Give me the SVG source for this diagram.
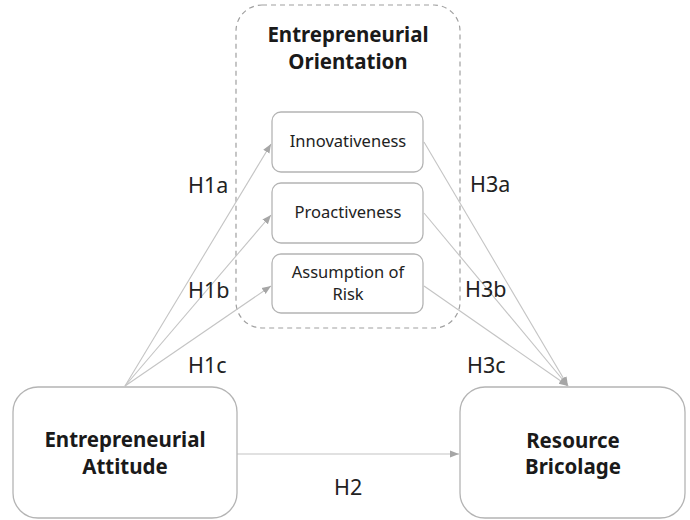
<svg xmlns="http://www.w3.org/2000/svg" width="690" height="520" viewBox="0 0 690 520">
<defs>
<marker id="ah" viewBox="0 0 10 10" refX="10" refY="5" markerWidth="9" markerHeight="9" markerUnits="userSpaceOnUse" orient="auto">
<path d="M0,1 L10,5 L0,9 Z" fill="#a6a6a6"/>
</marker>
<style>
.box{fill:#fff;stroke:#b4b4b4;stroke-width:1.3}
.grp{fill:none;stroke:#a0a0a0;stroke-width:1.2;stroke-dasharray:5,4}
.con{fill:none;stroke:#c4c4c4;stroke-width:1.1;marker-end:url(#ah)}
.big{font-family:"Noto Sans","Open Sans",sans-serif;font-weight:bold;font-size:20.5px;fill:#1a1a1a;text-anchor:middle}
.sm{font-family:"Noto Sans","Open Sans",sans-serif;font-size:16.5px;fill:#222;text-anchor:middle}
.lbl{font-family:"Noto Sans","Open Sans",sans-serif;font-size:21.5px;fill:#222}
</style>
</defs>
<rect width="690" height="520" fill="#fff"/>
<g id="eo-group">
<rect class="grp" x="236" y="5" width="224" height="323" rx="26"/>
<text class="big" x="348" y="41.5">Entrepreneurial</text>
<text class="big" x="348" y="69">Orientation</text>
</g>
<g id="connectors">
<line class="con" x1="125" y1="386" x2="271" y2="144"/>
<line class="con" x1="125" y1="386" x2="271" y2="215"/>
<line class="con" x1="125" y1="386" x2="271" y2="286"/>
<line class="con" x1="424" y1="142" x2="568" y2="386"/>
<line class="con" x1="424" y1="213" x2="568" y2="386"/>
<line class="con" x1="424" y1="286" x2="568" y2="386"/>
<line class="con" x1="237" y1="454" x2="459" y2="454"/>
</g>
<g id="innovativeness">
<rect class="box" x="272" y="112" width="151" height="60" rx="9"/>
<text class="sm" x="348" y="147">Innovativeness</text>
</g>
<g id="proactiveness">
<rect class="box" x="272" y="183" width="151" height="60" rx="9"/>
<text class="sm" x="348" y="218">Proactiveness</text>
</g>
<g id="risk">
<rect class="box" x="272" y="254" width="151" height="59" rx="9"/>
<text class="sm" x="348" y="278">Assumption of</text>
<text class="sm" x="348" y="300">Risk</text>
</g>
<g id="attitude">
<rect class="box" x="13" y="387" width="224" height="131" rx="25"/>
<text class="big" x="125" y="447">Entrepreneurial</text>
<text class="big" x="125" y="474">Attitude</text>
</g>
<g id="bricolage">
<rect class="box" x="460" y="387" width="225" height="131" rx="25"/>
<text class="big" x="573" y="448">Resource</text>
<text class="big" x="573" y="474">Bricolage</text>
</g>
<g id="labels">
<text class="lbl" x="188" y="193">H1a</text>
<text class="lbl" x="188" y="298">H1b</text>
<text class="lbl" x="188" y="373">H1c</text>
<text class="lbl" x="470" y="192">H3a</text>
<text class="lbl" x="465" y="297">H3b</text>
<text class="lbl" x="467" y="373">H3c</text>
<text class="lbl" x="334" y="495">H2</text>
</g>
</svg>
